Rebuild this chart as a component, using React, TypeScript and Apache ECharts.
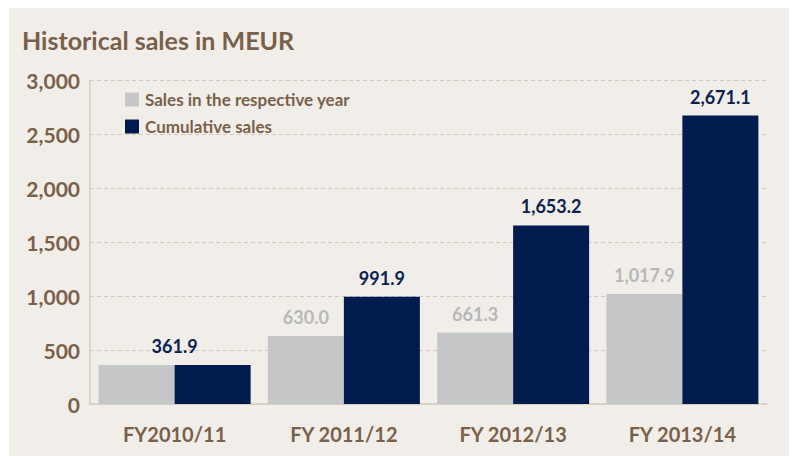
import React, { useEffect, useRef } from "react";
import * as echarts from "echarts";

const categories = ["FY2010/11", "FY 2011/12", "FY 2012/13", "FY 2013/14"];
const yearlySales = [361.9, 630.0, 661.3, 1017.9];
const cumulativeSales = [361.9, 991.9, 1653.2, 2671.1];
const seriesNames = ["Sales in the respective year", "Cumulative sales"];
const titleText = "Historical sales in MEUR";

const BROWN = "#7a6049";
const GRAY = "#c5c6c8";
const NAVY = "#001b4e";
const fmt = (v: number) =>
  v.toLocaleString("en-US", { minimumFractionDigits: 1, maximumFractionDigits: 1 });

export default function App() {
  const ref = useRef<HTMLDivElement>(null);
  useEffect(() => {
    if (!ref.current) return;
    const chart = echarts.init(ref.current, null, { renderer: "svg" });
    const font = "Lato";
    chart.setOption({
      animation: false,
      backgroundColor: "#f1eee9",
      title: {
        text: titleText,
        left: 8,
        top: 14,
        textStyle: {
          fontFamily: font,
          fontWeight: "bold",
          fontSize: 25,
          color: BROWN,
        },
      },
      legend: {
        orient: "vertical",
        left: 111,
        top: 78,
        itemWidth: 14,
        itemHeight: 14,
        itemGap: 10,
        icon: "rect",
        data: seriesNames,
        textStyle: {
          fontFamily: font,
          fontWeight: "bold",
          fontSize: 17,
          lineHeight: 14,
          color: BROWN,
          padding: [0, 0, 0, 1],
        },
      },
      grid: { left: 81, right: 22, top: 72, bottom: 52 },
      xAxis: {
        type: "category",
        data: categories,
        axisTick: { show: false },
        axisLine: { lineStyle: { color: "#d6cbbf", width: 1.5 } },
        axisLabel: {
          margin: 20,
          fontFamily: font,
          fontWeight: "bold",
          fontSize: 20,
          color: BROWN,
        },
      },
      yAxis: {
        type: "value",
        min: 0,
        max: 3000,
        interval: 500,
        axisLine: { show: true, lineStyle: { color: "#d6cbbf", width: 1.5 } },
        axisTick: { show: false },
        splitLine: { lineStyle: { color: "#d3c8bc", type: [4, 3], width: 1.2 } },
        axisLabel: {
          margin: 10,
          fontFamily: font,
          fontWeight: "bold",
          fontSize: 21,
          color: BROWN,
          formatter: (v: number) => v.toLocaleString("en-US"),
        },
      },
      series: [
        {
          name: seriesNames[0],
          type: "bar",
          barWidth: 76,
          barGap: "0%",
          itemStyle: { color: GRAY },
          label: {
            show: true,
            position: "top",
            distance: 10,
            fontFamily: font,
            fontWeight: "bold",
            fontSize: 18,
            color: "#b7b8ba",
            formatter: (p: any) => fmt(p.value),
          },
          data: yearlySales.map((v, i) =>
            i === 0 ? { value: v, label: { show: false } } : v
          ),
        },
        {
          name: seriesNames[1],
          type: "bar",
          barWidth: 76,
          barGap: "0%",
          itemStyle: { color: NAVY },
          label: {
            show: true,
            position: "top",
            distance: 10,
            fontFamily: font,
            fontWeight: "bold",
            fontSize: 18,
            color: "#0b2150",
            formatter: (p: any) => fmt(p.value),
          },
          data: cumulativeSales.map((v, i) =>
            i === 0 ? { value: v, label: { offset: [-38, 0] } } : v
          ),
        },
      ],
    });
    return () => chart.dispose();
  }, []);
  return <div ref={ref} style={{ width: 780, height: 448, marginLeft: 1 }} />;
}
